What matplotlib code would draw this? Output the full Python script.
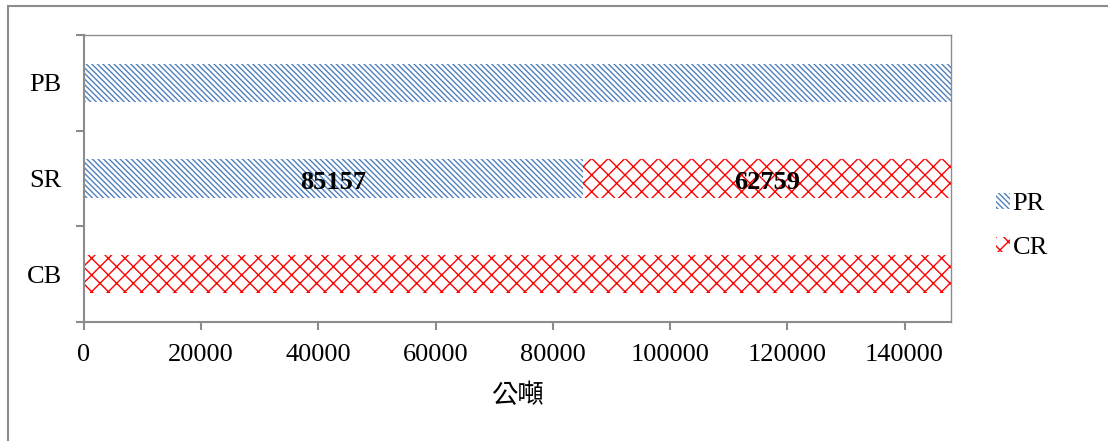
import matplotlib
matplotlib.use("Agg")
import matplotlib.pyplot as plt
from matplotlib.patches import Patch, Rectangle
import numpy as np

categories = ["CB", "SR", "PB"]
pr_values = [0, 85157, 147916]
cr_values = [147916, 62759, 0]
series_names = ["PR", "CR"]
xticks = [0, 20000, 40000, 60000, 80000, 100000, 120000, 140000]
xlabel = "公噸"

plt.rcParams['font.family'] = ['Liberation Serif', 'DejaVu Serif']
plt.rcParams['hatch.linewidth'] = 1.0

blue = "#4F81BD"
red = "#FF0000"
spine_c = "#8C8C8C"
fs = 19
pr_hatch = "\\\\\\\\\\\\"
cr_hatch = "xx"

fig = plt.figure(figsize=(11.08, 4.41), dpi=100)
# outer frame
fig.patches.append(Rectangle((8/1108, -0.05), 1.2, 1 - 6/441 + 0.05,
                             transform=fig.transFigure, fill=False,
                             edgecolor=spine_c, linewidth=1.5, zorder=0))

ax = fig.add_axes([84/1108, 1 - 322/441, (951 - 84)/1108, (322 - 35)/441])
y = np.arange(len(categories))
h = 0.4
ax.barh(y, pr_values, height=h, color="white", edgecolor=blue,
        hatch=pr_hatch, linewidth=0)
ax.barh(y, cr_values, left=pr_values, height=h, color="white",
        edgecolor=red, hatch=cr_hatch, linewidth=0)

# value labels on the SR bar
ax.text(pr_values[1] / 2, 1 - 0.04, f"{pr_values[1]}", ha="center", va="center",
        fontsize=fs, fontweight="bold")
ax.text(pr_values[1] + cr_values[1] / 2, 1 - 0.04, f"{cr_values[1]}", ha="center",
        va="center", fontsize=fs, fontweight="bold")

ax.set_xlim(0, pr_values[1] + cr_values[1])
ax.set_ylim(-0.5, len(categories) - 0.5)
ax.set_xticks(xticks)
ax.set_xticklabels([str(t) for t in xticks], fontsize=fs)
ax.set_yticks(y)
ax.set_yticklabels(categories, fontsize=fs)
ax.set_yticks(np.arange(-0.5, len(categories)), minor=True)
ax.tick_params(axis="y", which="major", length=0, pad=16)
ax.tick_params(axis="y", which="minor", length=6, width=1.5, color=spine_c)
ax.tick_params(axis="x", which="major", length=5.5, width=1.5, color=spine_c, pad=10)
for s in ax.spines.values():
    s.set_color(spine_c)
    s.set_linewidth(1.5)
ax.spines["top"].set_linewidth(1.0)
ax.spines["right"].set_linewidth(1.0)

ax.set_xlabel(xlabel, fontsize=fs, family=['Noto Sans CJK TC', 'DejaVu Sans'],
              labelpad=12)

handles = [Patch(facecolor="white", edgecolor=blue, hatch=pr_hatch, linewidth=0),
           Patch(facecolor="white", edgecolor=red, hatch=cr_hatch, linewidth=0)]
fig.legend(handles, series_names, loc="center left",
           bbox_to_anchor=(985/1108, 1 - 226/441), frameon=False, fontsize=fs,
           handlelength=0.55, handleheight=0.55, handletextpad=0.1,
           labelspacing=0.8, borderaxespad=0)

fig.savefig("out.png", dpi=100)
